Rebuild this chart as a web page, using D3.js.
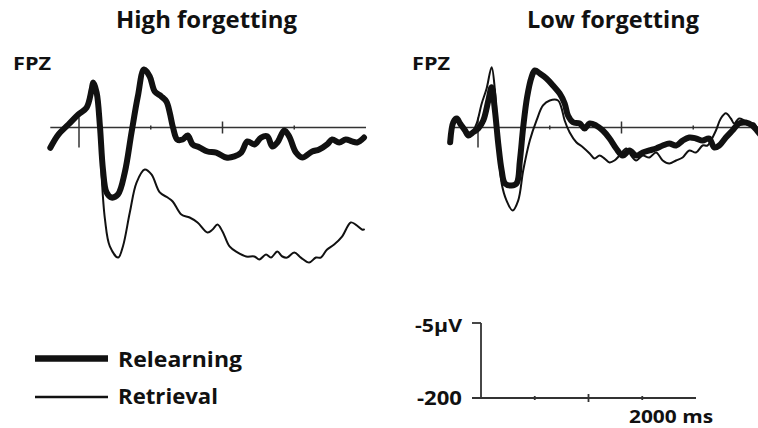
<!DOCTYPE html>
<html>
<head>
<meta charset="utf-8">
<script src="https://cdn.jsdelivr.net/npm/d3@7"></script>
<style>
  html, body { margin: 0; padding: 0; background: #fff; }
  text { font-family: "Open Sans", "DejaVu Sans", sans-serif; font-weight: 700; fill: #111; }
</style>
</head>
<body>
<div id="viz"></div>
<script>
// [time ms, amplitude µV] (negative plotted up)
const highRelearning = [
  [-200, 1.35], [-144, 0.47], [-74, -0.2], [-5, -0.87], [53, -1.33], [88, -2.53], [99, -3.0],
  [123, -2.33], [146, -0.07], [167, 2.8], [192, 4.33], [227, 4.67], [271, 4.47], [319, 3.0],
  [366, 0.33], [410, -2.07], [453, -3.87], [493, -3.4], [528, -2.4], [574, -2.07], [609, -1.73],
  [632, -1.0], [655, 0], [685, 0.8], [722, 0.8], [757, 0.53], [792, 1.13], [840, 1.33],
  [896, 1.6], [956, 1.67], [1026, 2.0], [1083, 1.93], [1130, 1.67], [1174, 0.93], [1222, 1.13],
  [1269, 0.67], [1313, 0.6], [1347, 1.27], [1382, 1.0], [1431, 0.2], [1465, 0.6], [1512, 1.67],
  [1556, 2.0], [1625, 1.6], [1674, 1.47], [1729, 1.13], [1764, 0.8], [1813, 1.0], [1859, 0.8],
  [1903, 0.93], [1938, 1.0], [1986, 0.67]
];
const highRetrieval = [
  [-200, 1.2], [-145, 0.35], [-75, -0.3], [-5, -0.9], [53, -1.3], [88, -2.4], [99, -2.9],
  [123, -2.2], [146, 0.1], [158, 3.27], [181, 6.13], [215, 7.93], [273, 8.67], [306, 7.93],
  [354, 5.67], [401, 3.67], [458, 2.8], [505, 3.13], [563, 4.33], [618, 4.67], [653, 4.93],
  [713, 5.8], [771, 6.0], [826, 6.33], [896, 7.0], [931, 6.8], [965, 6.47], [1000, 6.93],
  [1049, 7.93], [1104, 8.33], [1165, 8.6], [1222, 8.6], [1257, 8.8], [1303, 8.47], [1338, 8.67],
  [1382, 8.27], [1417, 8.6], [1451, 8.67], [1500, 8.33], [1546, 8.67], [1604, 9.0], [1651, 8.67],
  [1685, 8.67], [1729, 8.13], [1778, 7.8], [1833, 7.27], [1894, 6.33], [1928, 6.47], [1972, 6.8],
  [1986, 6.8]
];
const lowRelearning = [
  [-194, 0.98], [-172, -0.35], [-148, -0.6], [-125, -0.27], [-90, 0.2], [-67, 0.53], [-33, 0.31],
  [2, 0.07], [37, -0.47], [72, -1.8], [95, -2.69], [118, -1.13], [141, 1.07], [165, 2.87],
  [188, 3.73], [234, 3.87], [269, 3.73], [292, 2.2], [315, -0.02], [342, -2.02], [373, -3.35],
  [396, -3.8], [431, -3.6], [477, -3.27], [523, -2.8], [569, -2.27], [604, -1.6], [627, -0.8],
  [662, -0.35], [708, -0.27], [743, 0.07], [778, -0.27], [824, -0.13], [870, 0.2], [917, 0.73],
  [963, 1.4], [1009, 1.87], [1056, 1.53], [1102, 1.87], [1148, 1.67], [1194, 1.53], [1241, 1.4],
  [1287, 1.2], [1333, 1.07], [1380, 1.2], [1426, 0.87], [1472, 0.67], [1519, 0.73], [1565, 0.87],
  [1611, 0.73], [1646, 1.33], [1681, 1.2], [1727, 0.67], [1773, 0.2], [1819, -0.27], [1866, -0.33],
  [1912, -0.13], [1944, 0.2], [1972, 0.53]
];
const lowRetrieval = [
  [-194, 0.98], [-172, -0.35], [-148, -0.6], [-125, -0.27], [-90, 0.2], [-67, 0.53], [-33, 0.2],
  [-9, -0.27], [26, -1.6], [60, -2.6], [95, -4.02], [118, -2.47], [141, 1.07], [165, 3.73],
  [199, 4.87], [241, 5.53], [280, 4.87], [315, 2.87], [361, 0.87], [408, -0.47], [453, -1.47],
  [500, -1.8], [558, -1.8], [581, -1.33], [604, -0.47], [639, 0.33], [685, 0.98], [731, 1.31],
  [778, 1.73], [812, 2.07], [847, 1.87], [882, 2.07], [917, 2.33], [951, 2.2], [986, 1.87],
  [1033, 1.4], [1067, 1.87], [1102, 2.2], [1148, 1.87], [1194, 2.0], [1241, 1.67], [1287, 2.2],
  [1333, 2.4], [1380, 2.2], [1426, 2.0], [1472, 1.53], [1519, 1.67], [1565, 1.2], [1599, 1.2],
  [1623, 0.87], [1658, 0.2], [1692, -0.6], [1727, -0.95], [1762, -0.6], [1785, -0.27], [1819, -0.6],
  [1854, -0.47], [1889, -0.27], [1924, -0.27], [1944, 0], [1972, 0.2]
];

const panelTitles = ["High forgetting", "Low forgetting"];
const channelLabel = "FPZ";
const tickTimes = [0, 500, 1000, 1500];
const legendLabels = ["Relearning", "Retrieval"];
const scaleLabels = ["-5µV", "-200", "2000 ms"];
const scaleTicks = [1, 2, 3]; // quarters of the time scale bar

const W = 758, H = 428;
const svg = d3.select('#viz').append('svg')
  .attr('width', W)
  .attr('height', H);

// text helper: the original font is a bit wider than Open Sans, so widths are pinned
function label(g, x, y, str, size, width, anchor) {
  return g.append('text')
    .attr('x', x).attr('y', y)
    .attr('text-anchor', anchor || 'start')
    .attr('textLength', width)
    .attr('lengthAdjust', 'spacingAndGlyphs')
    .style('font-size', size + 'px')
    .text(str);
}

const panels = [
  { title: panelTitles[0], tx: 116, tw: 181, x0: 50.3, lblX: 13, series: [highRetrieval, highRelearning] },
  { title: panelTitles[1], tx: 527, tw: 172, x0: 449.3, lblX: 412, series: [lowRetrieval, lowRelearning] }
];
const baseY = 127.5;
const pxPerMs = 0.1435;
const pxPerUv = 15;

panels.forEach(p => {
  const x = d3.scaleLinear().domain([-200, 2000]).range([p.x0, p.x0 + 2200 * pxPerMs]);
  const y = d3.scaleLinear().domain([0, -5]).range([baseY, baseY - 5 * pxPerUv]);
  const g = svg.append('g');

  label(g, p.tx, 28, p.title, 23, p.tw);
  label(g, p.lblX, 70, channelLabel, 18.5, 38);

  // time axis
  g.append('line')
    .attr('x1', x(-200)).attr('x2', x(2000))
    .attr('y1', y(0)).attr('y2', y(0))
    .attr('stroke', '#333').attr('stroke-width', 1.5);

  g.selectAll('line.tick')
    .data(tickTimes)
    .join('line')
    .attr('class', 'tick')
    .attr('x1', d => x(d)).attr('x2', d => x(d))
    .attr('y1', d => y(0) - (d === 0 ? 10 : d === 1000 ? 6 : 2))
    .attr('y2', d => y(0) + (d === 0 ? 20 : d === 1000 ? 6 : 2))
    .attr('stroke', '#333').attr('stroke-width', 1.5);

  const line = d3.line()
    .x(d => x(d[0]))
    .y(d => y(d[1]))
    .curve(d3.curveCatmullRom.alpha(0.5));

  g.selectAll('path.wave')
    .data(p.series)
    .join('path')
    .attr('class', 'wave')
    .attr('fill', 'none')
    .attr('stroke', '#111')
    .attr('stroke-linejoin', 'round')
    .attr('stroke-linecap', 'round')
    .attr('stroke-width', (d, i) => i === 1 ? 6 : 2)
    .attr('d', line);
});

// legend
const legend = svg.append('g');
legendLabels.forEach((lab, i) => {
  const ly = i === 0 ? 358.5 : 397;
  legend.append('line')
    .attr('x1', 35).attr('x2', 108)
    .attr('y1', ly).attr('y2', ly)
    .attr('stroke', '#111')
    .attr('stroke-width', i === 0 ? 6.5 : 2.5);
  label(legend, 118, i === 0 ? 367 : 404, lab, 21, i === 0 ? 124 : 100);
});

// scale bar
const sbX = d3.scaleLinear().domain([0, 4]).range([481, 696]);
const sbY = d3.scaleLinear().domain([0, -5]).range([398, 398 - 5 * pxPerUv]);
const sb = svg.append('g').attr('stroke', '#333').attr('stroke-width', 1.8);
sb.append('line').attr('x1', sbX(0)).attr('x2', sbX(0)).attr('y1', sbY(0)).attr('y2', sbY(-5));
sb.append('line').attr('x1', 472).attr('x2', sbX(0)).attr('y1', sbY(-5)).attr('y2', sbY(-5));
sb.append('line').attr('x1', 472).attr('x2', sbX(4)).attr('y1', sbY(0)).attr('y2', sbY(0));
sb.selectAll('line.sbt')
  .data(scaleTicks)
  .join('line')
  .attr('class', 'sbt')
  .attr('x1', d => sbX(d)).attr('x2', d => sbX(d))
  .attr('y1', d => sbY(0) - (d === 2 ? 4 : 2))
  .attr('y2', d => sbY(0) + (d === 2 ? 4 : 2));

label(svg, 415, 332, scaleLabels[0], 18, 47);
label(svg, 417, 405, scaleLabels[1], 19, 45);
label(svg, 629, 423, scaleLabels[2], 18, 84);
</script>
</body>
</html>
